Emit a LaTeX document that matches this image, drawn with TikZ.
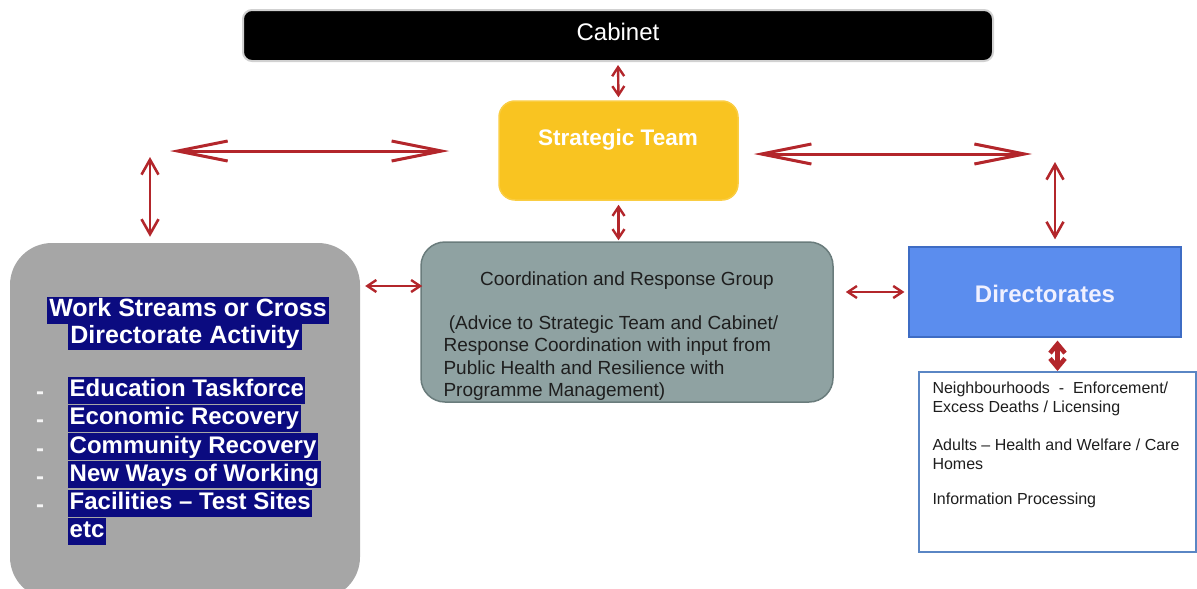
\documentclass[tikz,border=0pt]{standalone}
\usepackage{fontspec}
\setmainfont{Liberation Sans}
\usetikzlibrary{arrows.meta,calc}
\definecolor{arrowred}{HTML}{B3262B}
\definecolor{stgold}{HTML}{F9C421}
\definecolor{wsgrey}{HTML}{A6A6A6}
\definecolor{coordfill}{HTML}{8FA2A2}
\definecolor{coordline}{HTML}{6A7C7C}
\definecolor{dirblue}{HTML}{5B8DEE}
\definecolor{dirline}{HTML}{3E6CC4}
\definecolor{listline}{HTML}{5A86C4}
\definecolor{hlnavy}{HTML}{0B0B80}
\definecolor{bodytext}{HTML}{1E1E1E}
\tikzset{
  link/.style={draw=arrowred, line width=3pt},
  bigtips/.style={link, {Straight Barb[length=50pt,width=20pt]}-{Straight Barb[length=50pt,width=20pt]}},
  midtips/.style={link, line width=2.6pt, {Straight Barb[length=15pt,width=17pt]}-{Straight Barb[length=15pt,width=17pt]}},
  smalltips/.style={link, line width=2.4pt, {Straight Barb[length=9pt,width=12pt]}-{Straight Barb[length=9pt,width=12pt]}},
  chevtips/.style={link, line width=4.5pt, {Straight Barb[length=9pt,width=15pt]}-{Straight Barb[length=9pt,width=15pt]}},
  hl/.style={fill=hlnavy, text=white, font=\fontsize{24}{28}\selectfont\bfseries,
    inner xsep=1.5pt, inner ysep=1pt, text height=19pt, text depth=6pt},
  hltitle/.style={hl, font=\fontsize{25}{28}\selectfont\bfseries, inner xsep=2pt},
  dashmark/.style={text=white!92!gray, font=\fontsize{24}{28}\selectfont\bfseries},
  bodyfont/.style={text=bodytext, font=\fontsize{19}{22.5}\selectfont},
  listfont/.style={text=bodytext, font=\fontsize{16}{19}\selectfont, align=left, anchor=west}
}
\begin{document}
\begin{tikzpicture}[x=1pt,y=-1pt]
\useasboundingbox (0,0) rectangle (1197,589);
\clip (0,0) rectangle (1197,589);

% Cabinet bar
\node[fill=black, draw=black!18, line width=2pt, rounded corners=9pt,
  minimum width=750pt, minimum height=51pt, inner sep=0pt] (cab) at (618,35.5) {};
\node[text=white, font=\fontsize{24}{28}\selectfont] (cabtxt) at (618,32) {Cabinet};

% Strategic Team
\node[fill=stgold, draw=stgold!85!white, line width=1.5pt, rounded corners=16pt,
  minimum width=239pt, minimum height=99pt, inner sep=0pt] (st) at (618.5,150.5) {};
\node[text=white, font=\fontsize{22.5}{26}\selectfont\bfseries] (sttxt) at (618,140) {Strategic Team};

% Work streams panel
\node[fill=wsgrey, rounded corners=42pt, minimum width=350pt, minimum height=356pt,
  inner sep=0pt] (ws) at (185,421) {};
\node[hltitle] (ws1) at (188,310) {Work Streams or Cross};
\node[hltitle] (ws2) at (185,336.5) {Directorate Activity};
\foreach \y/\t [count=\i] in {390/Education Taskforce, 418/Economic Recovery,
    446.5/Community Recovery, 474.5/New Ways of Working, 503/Facilities -- Test Sites} {
  \node[dashmark] (dash\i) at (40,\y+6) {-};
  \node[hl, anchor=west] (item\i) at (68,\y) {\t};
}
\node[hl, anchor=west] (item6) at (68,531) {etc};

% Coordination and Response Group
\node[fill=coordfill, draw=coordline, line width=1.5pt, rounded corners=24pt,
  minimum width=412pt, minimum height=160pt, inner sep=0pt] (coord) at (627,322) {};
\node[bodyfont] (coordtitle) at (627,281) {Coordination and Response Group};
\node[bodyfont, align=left, anchor=west] (coordbody) at (440,358)
  {\ (Advice to Strategic Team and Cabinet/\\Response Coordination with input from\\
   Public Health and Resilience with\\Programme Management)};

% Directorates
\node[fill=dirblue, draw=dirline, line width=1.2pt, minimum width=272pt,
  minimum height=90pt, inner sep=0pt] (dir) at (1045,292) {};
\node[text=white!94!blue, font=\fontsize{24}{28}\selectfont\bfseries] (dirtxt) at (1045,294) {Directorates};

% Directorate remits
\node[fill=white, draw=listline, line width=2pt, minimum width=277pt,
  minimum height=180pt, inner sep=0pt] (list) at (1057.5,462) {};
\node[listfont] (rem1) at (929,398.5) {Neighbourhoods \ - \ Enforcement/\\Excess Deaths / Licensing};
\node[listfont] (rem2) at (929,454.5) {Adults -- Health and Welfare / Care\\Homes};
\node[listfont] (rem3) at (929,500) {Information Processing};

% Connectors
\draw[smalltips, shorten <=3pt, shorten >=3pt] (cab.south) -- (st.north);
\draw[smalltips, shorten <=4pt, shorten >=1pt] (st.south) -- (st.south |- coord.north);

\coordinate (lhend) at (170,151);
\draw[bigtips, shorten >=49pt] (lhend) -- (lhend -| st.west);
\coordinate (rhend) at (1032,154);
\draw[bigtips, shorten <=15pt] (rhend -| st.east) -- (rhend);

\coordinate (lvtop) at (150,157);
\draw[midtips, shorten >=6pt] (lvtop) -- (lvtop |- ws.north);
\coordinate (rvtop) at (1055,162);
\draw[midtips, shorten >=7pt] (rvtop) -- (rvtop |- dir.north);

\coordinate (wsc) at ([yshift=36pt]coord.west);
\draw[smalltips, shorten <=5pt, shorten >=-2pt] (ws.east |- wsc) -- (wsc);
\draw[smalltips, shorten <=12pt, shorten >=4pt] (coord.east |- dir.west) -- (dir.west);

\draw[chevtips, shorten <=3pt, shorten >=0pt] (list.north |- dir.south) -- (list.north);
\end{tikzpicture}
\end{document}
